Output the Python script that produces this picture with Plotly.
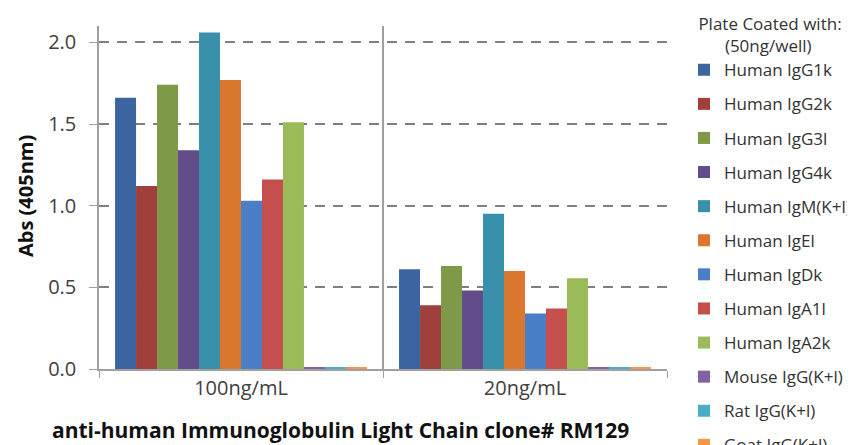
import plotly.graph_objects as go

categories = ["100ng/mL", "20ng/mL"]
series_names = ["Human IgG1k", "Human IgG2k", "Human IgG3l", "Human IgG4k",
                "Human IgM(K+l)", "Human IgEl", "Human IgDk", "Human IgA1l",
                "Human IgA2k", "Mouse IgG(K+l)", "Rat IgG(K+l)", "Goat IgG(K+l)"]
values_100 = [1.66, 1.12, 1.74, 1.34, 2.06, 1.77, 1.03, 1.16, 1.51, 0.01, 0.01, 0.01]
values_20 = [0.61, 0.39, 0.63, 0.48, 0.95, 0.60, 0.34, 0.37, 0.555, 0.01, 0.01, 0.01]
colors = ["#3B64A0", "#A0403C", "#7E9A48", "#634C8A", "#3990AA", "#D9782E",
          "#4A7FC8", "#C44F4C", "#9BBB59", "#8064A2", "#4BACC6", "#F79646"]
y_ticks = [0, 0.5, 1.0, 1.5, 2.0]
y_ticktext = ["0.0", "0.5", "1.0", "1.5", "2.0"]

FONT = "Open Sans"
W, H = 847, 437          # page body has an 8px margin
OFF = 8
# plot area in page pixels: x 99..667, y 26..369
L, R, T, B = 99 - OFF, W - (667 - OFF), 26 - OFF, H - (369 - OFF)
PW, PH = W - L - R, H - T - B

def px_x(page_x):
    return (page_x - OFF - L) / PW

def px_y(page_y):
    return (H - B - (page_y - OFF)) / PH

fig = go.Figure()
for i, name in enumerate(series_names):
    fig.add_trace(go.Bar(
        x=categories, y=[values_100[i], values_20[i]], name=name,
        marker=dict(color=colors[i], line=dict(width=0)),
        legendgroup=name,
    ))

legend_title = "Plate Coated with:<br>" + "&nbsp;" * 6 + "(50ng/well)"

fig.update_layout(
    width=W, height=H,
    margin=dict(l=L, r=R, t=T, b=B, autoexpand=False),
    paper_bgcolor="white", plot_bgcolor="white",
    barmode="group", bargap=0.113, bargroupgap=0,
    font=dict(family=FONT, color="#404040"),
    showlegend=True,
    legend=dict(
        xref="container", yref="container", x=(684 - OFF) / W, y=1.0,
        xanchor="left", yanchor="top",
        title=dict(text=legend_title, side="top center",
                   font=dict(family=FONT, size=17, color="#333333")),
        font=dict(family=FONT, size=17, color="#333333"),
        tracegroupgap=9, itemwidth=30, bgcolor="rgba(0,0,0,0)",
        maxheight=1000,
    ),
    xaxis=dict(
        type="category", tickson="boundaries", ticks="outside", ticklen=7,
        tickcolor="#A0A0A0", showline=True, linecolor="#A0A0A0", linewidth=1.5,
        showgrid=True, gridcolor="#A0A0A0", gridwidth=1.5,
        tickfont=dict(family=FONT, size=20, color="#404040"),
        automargin=False,
    ),
    yaxis=dict(
        range=[0, 2.1], tickvals=y_ticks, ticktext=y_ticktext,
        ticks="outside", ticklen=8, tickcolor="#A0A0A0", ticklabelstandoff=9,
        showline=True, linecolor="#A0A0A0", linewidth=1.5,
        showgrid=True, gridcolor="#808080", gridwidth=1.5, griddash="10px,8px",
        zeroline=False, automargin=False,
        tickfont=dict(family=FONT, size=20, color="#404040"),
    ),
    annotations=[
        dict(text="<b>anti-human Immunoglobulin Light Chain clone# RM129</b>",
             xref="paper", yref="paper", x=px_x(340), y=px_y(430),
             xanchor="center", yanchor="middle", showarrow=False,
             font=dict(family=FONT, size=21, color="#111111")),
        dict(text="<b>Abs (405nm)</b>", textangle=-90,
             xref="paper", yref="paper", x=px_x(25), y=px_y(196),
             xanchor="center", yanchor="middle", showarrow=False,
             font=dict(family=FONT, size=20, color="#111111")),
    ],
)

fig.write_html("out.html")
